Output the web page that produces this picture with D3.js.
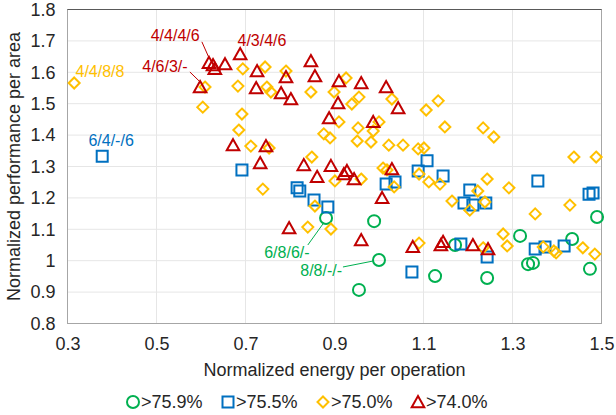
<!DOCTYPE html>
<html>
<head>
<meta charset="utf-8">
<script src="https://cdn.jsdelivr.net/npm/d3@7"></script>
<style>
  body { margin: 0; background: #fff; }
  text { font-family: "Liberation Sans", Arial, sans-serif; }
</style>
</head>
<body>
<div id="chart"></div>
<script>
// axis ticks
var xTicks = [0.3, 0.5, 0.7, 0.9, 1.1, 1.3, 1.5];
var yTicks = [0.8, 0.9, 1.0, 1.1, 1.2, 1.3, 1.4, 1.5, 1.6, 1.7, 1.8];

var seriesNames = [">75.9%", ">75.5%", ">75.0%", ">74.0%"];
var seriesColors = ["#00b050", "#0070c0", "#ffc000", "#c00000"];
var seriesShapes = ["circle", "square", "diamond", "triangle"];

// [energy, performance]
var green = [
  [0.881, 1.136], [0.989, 1.126], [1.000, 1.002], [0.955, 0.907],
  [1.171, 1.050], [1.126, 0.951], [1.243, 0.945], [1.317, 1.079],
  [1.335, 0.989], [1.346, 0.993], [1.434, 1.069], [1.474, 0.974],
  [1.490, 1.139]
];

var blue = [
  [0.378, 1.333], [0.692, 1.289], [0.816, 1.232], [0.822, 1.222],
  [0.854, 1.193], [0.885, 1.171], [1.016, 1.244], [1.036, 1.251],
  [1.108, 1.318], [1.088, 1.286], [1.144, 1.270], [1.204, 1.225],
  [1.191, 1.184], [1.211, 1.177], [1.240, 1.184], [1.357, 1.254],
  [1.472, 1.212], [1.481, 1.216], [1.074, 0.964], [1.243, 1.012],
  [1.351, 1.037], [1.373, 1.044], [1.416, 1.047], [1.184, 1.053]
];

var orange = [
  [0.315, 1.566], [0.609, 1.553], [0.604, 1.489], [0.694, 1.611],
  [0.683, 1.556], [0.692, 1.467], [0.685, 1.416], [0.712, 1.365],
  [0.744, 1.617], [0.791, 1.604], [0.748, 1.553], [0.757, 1.537],
  [0.753, 1.359], [0.739, 1.228], [0.847, 1.537], [0.899, 1.537],
  [0.926, 1.582], [0.955, 1.521], [0.939, 1.499], [1.029, 1.515],
  [0.910, 1.442], [0.953, 1.423], [0.876, 1.404], [0.890, 1.391],
  [0.951, 1.381], [0.982, 1.378], [0.987, 1.413], [1.000, 1.442],
  [1.022, 1.368], [0.849, 1.330], [1.009, 1.295], [1.018, 1.289],
  [0.960, 1.260], [0.901, 1.254], [1.034, 1.235], [0.856, 1.174],
  [0.840, 1.107], [0.892, 1.101], [1.054, 1.368], [1.088, 1.356],
  [1.101, 1.359], [1.106, 1.480], [1.133, 1.509], [1.148, 1.426],
  [1.234, 1.423], [1.258, 1.394], [1.438, 1.330], [1.488, 1.330],
  [1.090, 1.276], [1.112, 1.251], [1.137, 1.244], [1.243, 1.260],
  [1.292, 1.232], [1.222, 1.222], [1.164, 1.190], [1.204, 1.161],
  [1.238, 1.187], [1.351, 1.149], [1.429, 1.177], [1.279, 1.085],
  [1.288, 1.047], [1.090, 1.056], [1.234, 1.041], [1.369, 1.044],
  [1.393, 1.031], [1.398, 1.025], [1.458, 1.041], [1.485, 1.021]
];

var red = [
  [0.598, 1.553], [0.618, 1.630], [0.627, 1.623], [0.631, 1.611],
  [0.654, 1.626], [0.688, 1.658], [0.672, 1.368], [0.726, 1.604],
  [0.724, 1.550], [0.791, 1.585], [0.780, 1.534], [0.802, 1.515],
  [0.847, 1.636], [0.856, 1.588], [0.910, 1.572], [0.960, 1.566],
  [1.016, 1.553], [1.043, 1.486], [0.908, 1.502], [0.888, 1.454],
  [0.987, 1.442], [0.746, 1.365], [0.733, 1.311], [0.831, 1.305],
  [0.892, 1.302], [0.921, 1.276], [0.928, 1.286], [0.944, 1.260],
  [0.861, 1.267], [1.029, 1.292], [1.007, 1.200], [0.798, 1.104],
  [0.960, 1.066], [1.076, 1.044], [1.139, 1.050], [1.144, 1.060],
  [1.211, 1.050], [1.245, 1.037]
];

// point annotations: text, series index, label centre and leader line (data units)
var labels = [
  {text: "4/4/8/8", s: 2, x: 0.373, y: 1.604},
  {text: "6/4/-/6", s: 1, x: 0.398, y: 1.384},
  {text: "4/6/3/-", s: 3, x: 0.519, y: 1.620, line: [0.575, 1.601, 0.596, 1.572]},
  {text: "4/4/4/6", s: 3, x: 0.542, y: 1.719, line: [0.602, 1.697, 0.618, 1.646]},
  {text: "4/3/4/6", s: 3, x: 0.737, y: 1.703},
  {text: "6/8/6/-", s: 0, x: 0.793, y: 1.025, line: [0.840, 1.050, 0.874, 1.117]},
  {text: "8/8/-/-", s: 0, x: 0.870, y: 0.970, line: [0.919, 0.980, 0.987, 0.999]}
];

var allSeries = [green, blue, orange, red];

var width = 616, height = 415;
var margin = {top: 9.5, right: 14.5, bottom: 91.5, left: 67.5};
var plotW = width - margin.left - margin.right;
var plotH = height - margin.top - margin.bottom;

var x = d3.scaleLinear().domain([0.3, 1.5]).range([0, plotW]);
var y = d3.scaleLinear().domain([0.8, 1.8]).range([plotH, 0]);

var svg = d3.select("#chart").append("svg")
    .attr("width", width)
    .attr("height", height);

var g = svg.append("g")
    .attr("transform", "translate(" + margin.left + "," + margin.top + ")");

// gridlines
g.append("g").selectAll("line")
    .data(yTicks)
  .enter().append("line")
    .attr("x1", 0).attr("x2", plotW)
    .attr("y1", function(d) { return y(d); })
    .attr("y2", function(d) { return y(d); })
    .style("stroke", "#e6e6e6");

g.append("g").selectAll("line")
    .data(xTicks)
  .enter().append("line")
    .attr("y1", 0).attr("y2", plotH)
    .attr("x1", function(d) { return x(d); })
    .attr("x2", function(d) { return x(d); })
    .style("stroke", "#e6e6e6");

// plot border
g.append("rect")
    .attr("width", plotW).attr("height", plotH)
    .style("fill", "none")
    .style("stroke", "#a6a6a6");
g.append("line")
    .attr("x1", 0).attr("x2", plotW).attr("y1", 0).attr("y2", 0)
    .style("stroke", "#595959");

// axes (labels only, Excel style)
var xAxis = d3.axisBottom(x).tickValues(xTicks).tickSize(0).tickPadding(14)
    .tickFormat(d3.format(".1f"));
var yAxis = d3.axisLeft(y).tickValues(yTicks).tickSize(0).tickPadding(12)
    .tickFormat(function(d) { return Math.abs(d - 1) < 1e-9 ? "1" : d3.format(".1f")(d); });

g.append("g")
    .attr("transform", "translate(0," + plotH + ")")
    .call(xAxis)
    .call(function(a) { a.select(".domain").remove(); })
    .selectAll("text")
    .style("font-size", "18px")
    .style("fill", "#262626")
    .style("font-family", "Liberation Sans, Arial, sans-serif");

g.append("g")
    .call(yAxis)
    .call(function(a) { a.select(".domain").remove(); })
    .selectAll("text")
    .style("font-size", "18px")
    .style("fill", "#262626")
    .style("font-family", "Liberation Sans, Arial, sans-serif");

// axis titles
svg.append("text")
    .attr("x", margin.left + plotW / 2)
    .attr("y", 376)
    .attr("text-anchor", "middle")
    .style("font-size", "18px")
    .style("fill", "#262626")
    .text("Normalized energy per operation");

svg.append("text")
    .attr("transform", "translate(20," + (margin.top + plotH / 2) + ") rotate(-90)")
    .attr("text-anchor", "middle")
    .style("font-size", "18px")
    .style("fill", "#262626")
    .text("Normalized performance per area");

// marker paths centred on 0,0
function markerPath(shape) {
    if (shape == "circle") {
        return "M6,0A6,6 0 1,1 -6,0A6,6 0 1,1 6,0Z";
    }
    else if (shape == "square") {
        return "M-5.5,-5.5H5.5V5.5H-5.5Z";
    }
    else if (shape == "diamond") {
        return "M0,-5.5L5.5,0L0,5.5L-5.5,0Z";
    }
    else {
        return "M0,-6L6.3,5.2H-6.3Z";
    }
}

// series
allSeries.forEach(function(pts, i) {
    g.append("g")
        .attr("class", "series")
      .selectAll("path")
        .data(pts)
      .enter().append("path")
        .attr("d", markerPath(seriesShapes[i]))
        .attr("transform", function(d) {
            return "translate(" + x(d[0]) + "," + y(d[1]) + ")";
        })
        .style("fill", "none")
        .style("stroke", seriesColors[i])
        .style("stroke-width", 2);
});

// annotations
labels.forEach(function(l) {
    if (l.line) {
        g.append("line")
            .attr("x1", x(l.line[0])).attr("y1", y(l.line[1]))
            .attr("x2", x(l.line[2])).attr("y2", y(l.line[3]))
            .style("stroke", seriesColors[l.s])
            .style("stroke-width", 1);
    }
    g.append("text")
        .attr("x", x(l.x))
        .attr("y", y(l.y))
        .attr("text-anchor", "middle")
        .attr("dy", "0.35em")
        .style("font-size", "16px")
        .style("fill", seriesColors[l.s])
        .text(l.text);
});

// legend
var legend = svg.append("g")
    .attr("transform", "translate(133,402)");

var item = legend.selectAll("g")
    .data(seriesNames)
  .enter().append("g")
    .attr("transform", function(d, i) { return "translate(" + (i * 95) + ",0)"; });

item.append("path")
    .attr("d", function(d, i) { return markerPath(seriesShapes[i]); })
    .style("fill", "none")
    .style("stroke", function(d, i) { return seriesColors[i]; })
    .style("stroke-width", 2);

item.append("text")
    .attr("x", 8)
    .attr("dy", "0.35em")
    .style("font-size", "18px")
    .style("fill", "#262626")
    .text(function(d) { return d; });
</script>
</body>
</html>
